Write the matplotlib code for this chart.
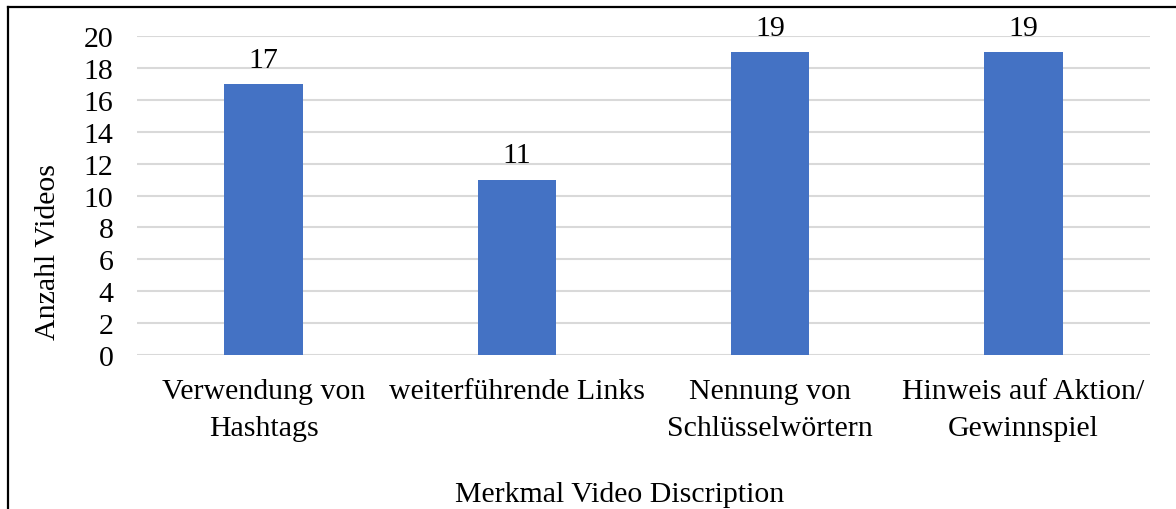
import matplotlib.pyplot as plt
from matplotlib.lines import Line2D

# Daten
kategorien = [
    "Verwendung von\nHashtags",
    "weiterführende Links",
    "Nennung von\nSchlüsselwörtern",
    "Hinweis auf Aktion/\nGewinnspiel",
]
anzahl = [17, 11, 19, 19]
y_ticks = list(range(0, 21, 2))

plt.rcParams["font.family"] = ["Liberation Serif", "DejaVu Serif"]
fs = 21.5

fig = plt.figure(figsize=(11.76, 5.10), dpi=100)
ax = fig.add_axes([0.1165, 0.3029, 0.8614, 0.6236])

x = range(len(kategorien))
bars = ax.bar(x, anzahl, width=0.31, color="#4472C4", zorder=3)
ax.bar_label(bars, labels=[str(v) for v in anzahl], padding=8, fontsize=fs)

# Achsen
ax.set_xlim(-0.5, len(kategorien) - 0.5)
ax.set_ylim(0, 20)
ax.set_yticks(y_ticks)
ax.set_xticks(list(x))
ax.set_xticklabels(kategorien, fontsize=fs, linespacing=1.55)
ax.tick_params(axis="y", length=0, pad=17, labelsize=fs)
ax.tick_params(axis="x", length=0, pad=17)
ax.grid(axis="y", color="#d9d9d9", linewidth=1.5, zorder=0)
for s in ax.spines.values():
    s.set_visible(False)

fig.text(620 / 1176, 1 - 502 / 510, "Merkmal Video Discription",
         ha="center", va="baseline", fontsize=fs)
fig.text(48 / 1176, 1 - 252 / 510, "Anzahl Videos",
         ha="center", va="center", rotation=90, fontsize=fs)

# Rahmen links und oben
fig.add_artist(Line2D([7.5 / 1176, 7.5 / 1176], [0, 1 - 7.5 / 510],
                      color="black", linewidth=1.6, transform=fig.transFigure))
fig.add_artist(Line2D([7.5 / 1176, 1], [1 - 7.5 / 510, 1 - 7.5 / 510],
                      color="black", linewidth=1.6, transform=fig.transFigure))

fig.savefig("out.png", dpi=100)
